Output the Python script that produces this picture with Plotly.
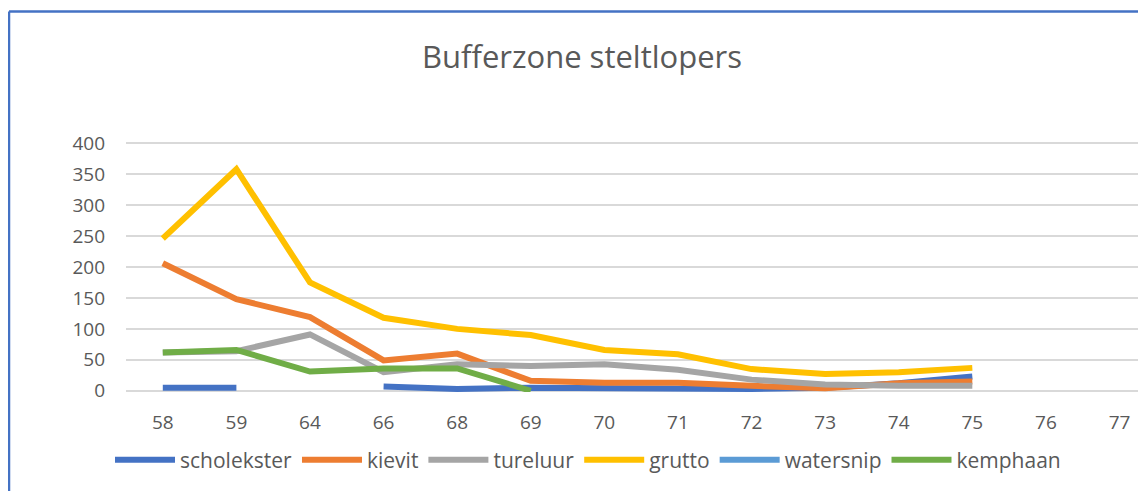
import plotly.graph_objects as go

categories = ["58", "59", "64", "66", "68", "69", "70", "71", "72", "73", "74", "75", "76", "77"]

scholekster = [5, 5, None, 7, 3, 5, 4, 3, 3, 5, 12, 23, None, None]
kievit = [206, 148, 119, 49, 60, 16, 13, 13, 8, 4, 12, 15, None, None]
tureluur = [62, 64, 91, 30, 43, 40, 43, 34, 18, 10, 8, 8, None, None]
grutto = [246, 358, 175, 118, 100, 90, 66, 59, 35, 27, 30, 37, None, None]
watersnip = [None] * 14
kemphaan = [62, 66, 31, 36, 36, 0, None, None, None, None, None, None, None, None]

series = [
    ("scholekster", scholekster, "#4472C4"),
    ("kievit", kievit, "#ED7D31"),
    ("tureluur", tureluur, "#A5A5A5"),
    ("grutto", grutto, "#FFC000"),
    ("watersnip", watersnip, "#5B9BD5"),
    ("kemphaan", kemphaan, "#70AD47"),
]

FONT = "Open Sans"
TXT = "#595959"

fig = go.Figure()
for name, vals, col in series:
    fig.add_trace(go.Scatter(
        x=categories, y=vals, name=name, mode="lines",
        line=dict(color=col, width=6), connectgaps=False,
        showlegend=True,
    ))

# page body has an 8px margin; work in screen pixels and convert
OFF = 8
W, H = 1146 - OFF, 491 - OFF
ml, mr, mt, mb = 126 - OFF, 0, 142 - OFF, 99
pw = W - ml - mr
ph = H - mt - mb

def px_to_paper_x(px):
    return (px - OFF - ml) / pw

def px_to_paper_y(py):
    return (H - mb - (py - OFF)) / ph

fig.update_layout(
    width=W, height=H,
    margin=dict(l=ml, r=mr, t=mt, b=mb),
    paper_bgcolor="white", plot_bgcolor="white",
    font=dict(family=FONT, color=TXT, size=19),
    title=dict(text="Bufferzone steltlopers", x=(582 - OFF) / W, xref="container", xanchor="center",
               y=1 - (57 - OFF) / H, yref="container", yanchor="middle",
               font=dict(family=FONT, size=31, color=TXT)),
    xaxis=dict(type="category", categoryorder="array", categoryarray=categories,
               range=[-0.5, 13.36], showgrid=False, zeroline=False,
               showline=False, ticks="", tickfont=dict(size=19, color=TXT),
               ticklabelstandoff=17),
    yaxis=dict(range=[-2, 402], tickvals=[0, 50, 100, 150, 200, 250, 300, 350, 400],
               showgrid=True, gridcolor="#D9D9D9", gridwidth=1.5, zeroline=False,
               showline=False, ticks="", tickfont=dict(size=19, color=TXT),
               ticklabelstandoff=20),
    legend=dict(orientation="h", x=px_to_paper_x(588), xanchor="center",
                y=px_to_paper_y(460), yanchor="middle",
                font=dict(size=21, color=TXT), itemwidth=60, tracegroupgap=0),
    showlegend=True,
)

# chart border (blue outline of the chart object)
fig.add_shape(type="line", xref="paper", yref="paper",
              x0=px_to_paper_x(9), x1=px_to_paper_x(1200),
              y0=px_to_paper_y(11.5), y1=px_to_paper_y(11.5),
              line=dict(color="#4472C4", width=2.5), layer="above")
fig.add_shape(type="line", xref="paper", yref="paper",
              x0=px_to_paper_x(9), x1=px_to_paper_x(9),
              y0=px_to_paper_y(11.5), y1=px_to_paper_y(600),
              line=dict(color="#4472C4", width=2.5), layer="above")

fig.write_html("out.html")
